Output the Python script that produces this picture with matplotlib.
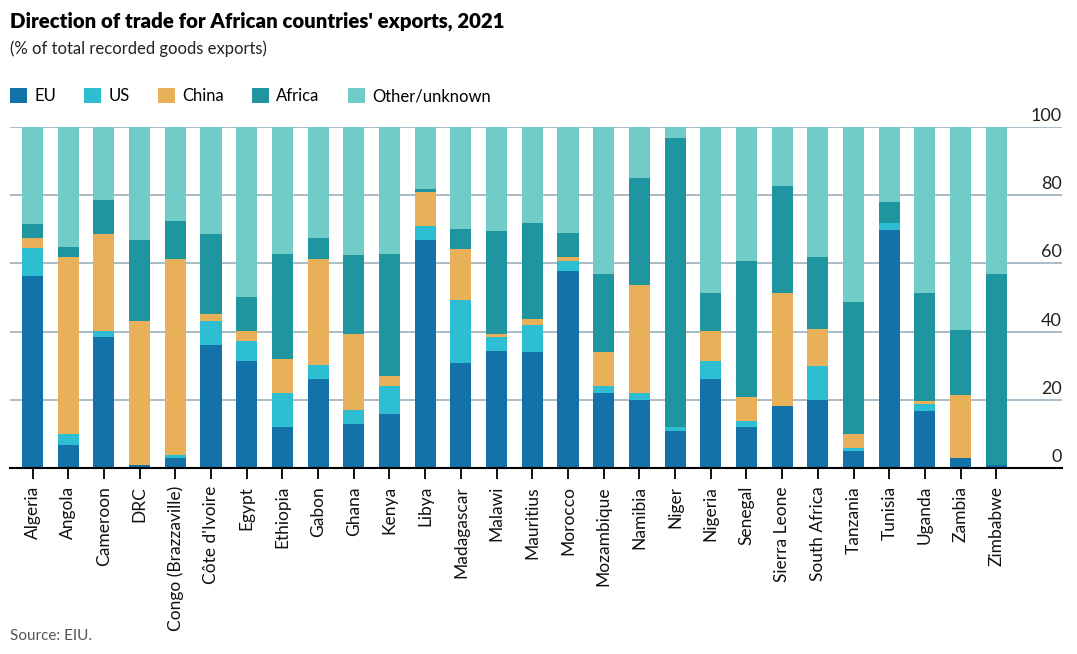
import numpy as np
import matplotlib
matplotlib.use("Agg")
from matplotlib import pyplot as plt
from matplotlib.patches import Patch

plt.rcParams['font.family'] = ['Lato', 'DejaVu Sans']

countries = ["Algeria", "Angola", "Cameroon", "DRC", "Congo (Brazzaville)", "Côte d'Ivoire",
             "Egypt", "Ethiopia", "Gabon", "Ghana", "Kenya", "Libya", "Madagascar", "Malawi",
             "Mauritius", "Morocco", "Mozambique", "Namibia", "Niger", "Nigeria", "Senegal",
             "Sierra Leone", "South Africa", "Tanzania", "Tunisia", "Uganda", "Zambia", "Zimbabwe"]

eu = [56.4, 6.8, 38.3, 1.0, 3.0, 36.2, 31.3, 12.1, 26.0, 12.9, 15.8, 66.9, 30.7, 34.2,
      33.9, 57.8, 22.0, 19.9, 10.9, 26.0, 12.1, 18.2, 19.9, 5.1, 69.8, 16.7, 3.0, 1.0]
us = [8.1, 3.2, 1.9, 0.0, 0.9, 7.0, 5.8, 9.9, 4.1, 4.1, 8.2, 4.0, 18.7, 4.1,
      7.9, 2.9, 2.0, 2.1, 1.2, 5.3, 1.7, 0.0, 9.9, 0.8, 2.0, 2.1, 0.0, 0.0]
china = [2.9, 51.9, 28.4, 42.0, 57.4, 2.1, 3.2, 9.9, 31.2, 22.2, 2.9, 10.0, 14.8, 0.9,
         2.0, 1.2, 9.9, 31.7, 0.0, 9.0, 7.0, 33.2, 11.1, 4.1, 0.0, 0.8, 18.4, 0.0]
africa = [4.1, 2.9, 9.9, 23.9, 11.1, 23.3, 9.9, 30.9, 6.1, 23.3, 35.9, 0.8, 5.9, 30.3,
          28.0, 7.0, 23.0, 31.2, 84.8, 11.1, 39.9, 31.2, 21.0, 38.8, 6.1, 31.8, 19.2, 55.9]
other = [28.5, 35.2, 21.5, 33.1, 27.6, 31.4, 49.8, 37.2, 32.6, 37.5, 37.2, 18.3, 29.9, 30.5,
         28.2, 31.1, 43.1, 15.1, 3.1, 48.6, 39.3, 17.4, 38.1, 51.2, 22.1, 48.6, 59.4, 43.1]

series = ["EU", "US", "China", "Africa", "Other/unknown"]
colors = ["#1372A8", "#2EBED1", "#E8B058", "#1E959F", "#71CBC7"]
yticks = [0, 20, 40, 60, 80, 100]

fig = plt.figure(figsize=(10.77, 6.54), dpi=100)
ax = fig.add_axes([0.0093, 0.2844, 0.9768, 0.5214])

x = np.arange(len(countries))
bottom = np.zeros(len(countries))
for vals, c in zip([eu, us, china, africa, other], colors):
    ax.bar(x, vals, width=0.59, bottom=bottom, color=c, zorder=3)
    bottom += np.array(vals)

ax.set_xlim(-0.63, 28.84)
ax.set_ylim(0, 100)

for s in ["top", "right", "left"]:
    ax.spines[s].set_visible(False)
ax.spines["bottom"].set_color("black")
ax.spines["bottom"].set_linewidth(1.5)
ax.spines["bottom"].set_zorder(4)

ax.set_yticks(yticks)
ax.set_yticklabels([])
ax.tick_params(axis="y", length=0)
ax.grid(axis="y", color="#A9BCC6", linewidth=1.4, zorder=0)
for t in yticks:
    ax.text(28.84, t + 0.9, str(t), ha="right", va="bottom", fontsize=13, color="#222222")

ax.set_xticks(x)
ax.set_xticklabels(countries, rotation=90, fontsize=12.5, color="#111111")
ax.tick_params(axis="x", length=8, width=1.3, pad=5, color="black")

fig.text(0.0093, 0.967, "Direction of trade for African countries' exports, 2021",
         fontsize=14.7, fontweight="heavy", va="center", ha="left", color="black")
fig.text(0.0093, 0.925, "(% of total recorded goods exports)",
         fontsize=12, va="center", ha="left", color="#222222")

handles = [Patch(facecolor=c, label=s) for s, c in zip(series, colors)]
fig.legend(handles=handles, loc="center left", bbox_to_anchor=(0.003, 0.853), ncol=5,
           frameon=False, handlelength=1.0, handleheight=1.0, handletextpad=0.45,
           columnspacing=1.7, fontsize=12, borderaxespad=0)

fig.text(0.0093, 0.027, "Source: EIU.", fontsize=11, color="#555555", va="center", ha="left")

fig.savefig("out.png", dpi=100)
